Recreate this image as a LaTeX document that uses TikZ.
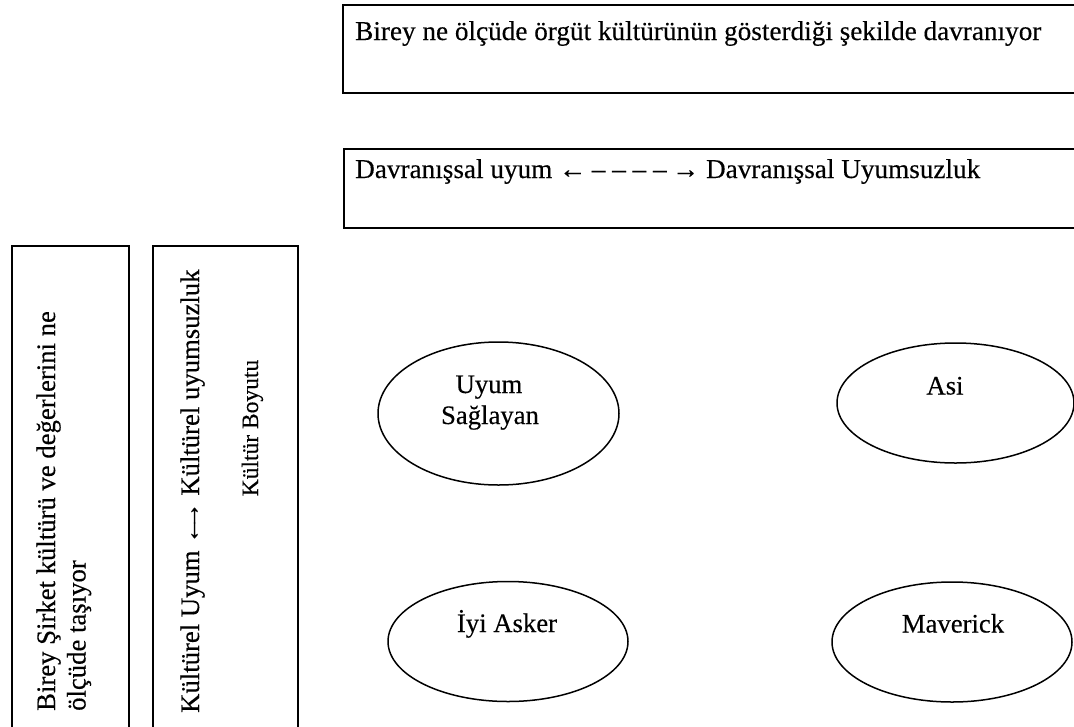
\documentclass[tikz,border=0pt]{standalone}
\usepackage{fontspec}
\setmainfont{Liberation Serif}[FakeBold=0.3]
\usetikzlibrary{shapes.geometric}
\begin{document}
\begin{tikzpicture}[x=1pt, y=-1pt,
  frame/.style={draw=black, line width=1.5pt, inner sep=0pt, anchor=north west},
  oval/.style={draw=black, ellipse, line width=1.5pt, inner sep=0pt},
  txt/.style={inner sep=0pt, font=\fontsize{26.7}{30.7}\selectfont},
  widetxt/.style={inner sep=0pt, font=\fontsize{27.2}{31}\selectfont},
  smalltxt/.style={inner sep=0pt, font=\fontsize{23.5}{27}\selectfont}]
\useasboundingbox (0,0) rectangle (1074,726);
\clip (0,0) rectangle (1074,726);

% frames (the right-hand and lower sides run off the page)
\node[frame, minimum width=760pt, minimum height=88pt] (behaviour) at (342,4) {};
\node[frame, minimum width=760pt, minimum height=79pt] (scale) at (343,148) {};
\node[frame, minimum width=117pt, minimum height=520pt] (carry) at (11,245) {};
\node[frame, minimum width=145pt, minimum height=520pt] (culture) at (152,245) {};

% frame texts
\node[widetxt, anchor=base west] (behaviourtxt) at (355,40)
  {Birey ne ölçüde örgüt kültürünün gösterdiği şekilde davranıyor};
\node[widetxt, anchor=base west] (scaletxt) at (355,178)
  {Davranışsal uyum ←\kern.2em–\kern.25em–\kern.25em–\kern.25em–\kern.2em→ Davranışsal Uyumsuzluk};
\node[txt, rotate=90, anchor=base west] (carrytxtA) at (55,711)
  {Birey Şirket kültürü ve değerlerini ne};
\node[txt, rotate=90, anchor=base west] (carrytxtB) at (85.5,711)
  {ölçüde taşıyor};
\node[txt, rotate=90, anchor=base west] (culturetxt) at (199,713)
  {Kültürel Uyum ←\kern-.45em→ Kültürel uyumsuzluk};
\node[smalltxt, rotate=90, anchor=base] (dimension) at (258,428)
  {Kültür Boyutu};

% the four types
\node[oval, minimum width=241pt, minimum height=143pt] (conform) at (498.5,413.5) {};
\node[oval, minimum width=237pt, minimum height=120pt] (rebel) at (955.5,403) {};
\node[oval, minimum width=240pt, minimum height=120pt] (soldier) at (508,641.5) {};
\node[oval, minimum width=240pt, minimum height=120pt] (maverick) at (952,642) {};

\node[txt, anchor=base] (conformA) at (489,393) {Uyum};
\node[txt, anchor=base] (conformB) at (490,424) {Sağlayan};
\node[txt, anchor=base] (rebeltxt) at (945,394.5) {Asi};
\node[txt, anchor=base] (soldiertxt) at (507,632) {İyi Asker};
\node[txt, anchor=base] (mavericktxt) at (953,632.5) {Maverick};
\end{tikzpicture}
\end{document}
